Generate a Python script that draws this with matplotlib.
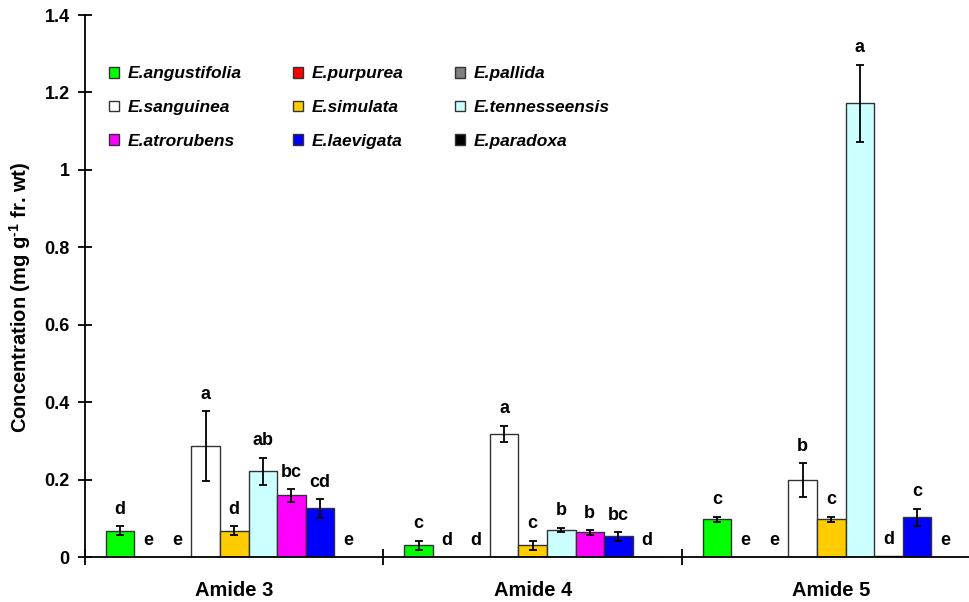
import matplotlib
matplotlib.use("Agg")
import matplotlib.pyplot as plt
import numpy as np
from matplotlib.patches import Patch

plt.rcParams["font.family"] = ["Liberation Sans", "DejaVu Sans"]
plt.rcParams["font.weight"] = "bold"
plt.rcParams["mathtext.fontset"] = "custom"
plt.rcParams["mathtext.rm"] = "Liberation Sans:bold"
plt.rcParams["mathtext.bf"] = "Liberation Sans:bold"

groups = ["Amide 3", "Amide 4", "Amide 5"]
species = ["E.angustifolia", "E.purpurea", "E.pallida", "E.sanguinea", "E.simulata",
           "E.tennesseensis", "E.atrorubens", "E.laevigata", "E.paradoxa"]
colors = ["#00FF00", "#FF0000", "#808080", "#FFFFFF", "#FFCC00",
          "#CCFFFF", "#FF00FF", "#0000FF", "#000000"]

# rows: species, columns: Amide 3, Amide 4, Amide 5
means = [
    [0.068, 0.030, 0.097],
    [0.0, 0.0, 0.0],
    [0.0, 0.0, 0.0],
    [0.287, 0.318, 0.198],
    [0.068, 0.030, 0.097],
    [0.222, 0.070, 1.172],
    [0.159, 0.064, 0.003],
    [0.126, 0.053, 0.103],
    [0.0, 0.0, 0.0],
]
errors = [
    [0.012, 0.012, 0.007],
    [0.0, 0.0, 0.0],
    [0.0, 0.0, 0.0],
    [0.090, 0.021, 0.044],
    [0.012, 0.012, 0.007],
    [0.035, 0.006, 0.100],
    [0.017, 0.006, 0.0],
    [0.024, 0.011, 0.022],
    [0.0, 0.0, 0.0],
]
letters = [
    ["d", "c", "c"],
    ["e", "d", "e"],
    ["e", "d", "e"],
    ["a", "a", "b"],
    ["d", "c", "c"],
    ["ab", "b", "a"],
    ["bc", "b", "d"],
    ["cd", "bc", "c"],
    ["e", "d", "e"],
]


def main() -> None:
    fig = plt.figure(figsize=(9.7, 6.02), dpi=100)
    ax = fig.add_axes([85 / 970, 45 / 602, 895.5 / 970, 542 / 602])

    n = len(species)
    width = 0.0955
    start = 0.5 - n * width / 2
    for i, name in enumerate(species):
        x = np.arange(len(groups)) + start + (i + 0.5) * width
        ax.bar(x, means[i], width=width, color=colors[i], edgecolor="#333333",
               linewidth=1.0, zorder=2)
        err = np.array(errors[i])
        mask = err > 0
        ax.errorbar(x[mask], np.array(means[i])[mask], yerr=err[mask], fmt="none",
                    ecolor="black", elinewidth=1.3, capsize=2.8, capthick=1.3, zorder=3)
        for j in range(len(groups)):
            if letters[i][j]:
                ax.annotate(letters[i][j], xy=(x[j], means[i][j] + errors[i][j]),
                            xytext=(0, 6), textcoords="offset points",
                            ha="center", va="bottom", fontsize=13, fontweight="bold")

    ax.set_xlim(0, 3)
    ax.set_ylim(0, 1.4)
    ax.set_yticks(np.arange(0, 1.41, 0.2))
    ax.set_yticklabels(["0", "0.2", "0.4", "0.6", "0.8", "1", "1.2", "1.4"],
                       fontsize=13, fontweight="bold")
    ax.set_xticks([0.5, 1.5, 2.5])
    ax.set_xticklabels(groups, fontsize=14.5, fontweight="bold")
    ax.set_xticks([0, 1, 2, 3], minor=True)
    ax.tick_params(axis="x", which="major", length=0, pad=17)
    ax.tick_params(axis="x", which="minor", direction="inout", length=12, width=1.3)
    ax.tick_params(axis="y", direction="inout", length=10, width=1.3, pad=6)
    for side in ["top", "right"]:
        ax.spines[side].set_visible(False)
    for side in ["left", "bottom"]:
        ax.spines[side].set_linewidth(1.3)
    ax.set_ylabel("Concentration (mg g$^{\\text{-1}}$ fr. wt)", fontsize=14.5,
                  fontweight="bold")
    ax.yaxis.set_label_coords(-0.058, 0.48)

    # legend filled column-wise, so reorder to read across rows
    handles = [Patch(facecolor=c, edgecolor="#333333", linewidth=1.0) for c in colors]
    order = [0, 3, 6, 1, 4, 7, 2, 5, 8]
    ax.legend([handles[k] for k in order], [species[k] for k in order], ncol=3,
              loc="upper left", bbox_to_anchor=(24 / 895.5, 0.905), frameon=False,
              borderpad=0, borderaxespad=0, handlelength=0.55, handleheight=0.55,
              handletextpad=0.5, columnspacing=3.0, labelspacing=1.07,
              prop={"size": 12.5, "weight": "bold", "style": "italic"})

    fig.savefig("out.png", dpi=100)
    plt.close(fig)


if __name__ == "__main__":
    main()
